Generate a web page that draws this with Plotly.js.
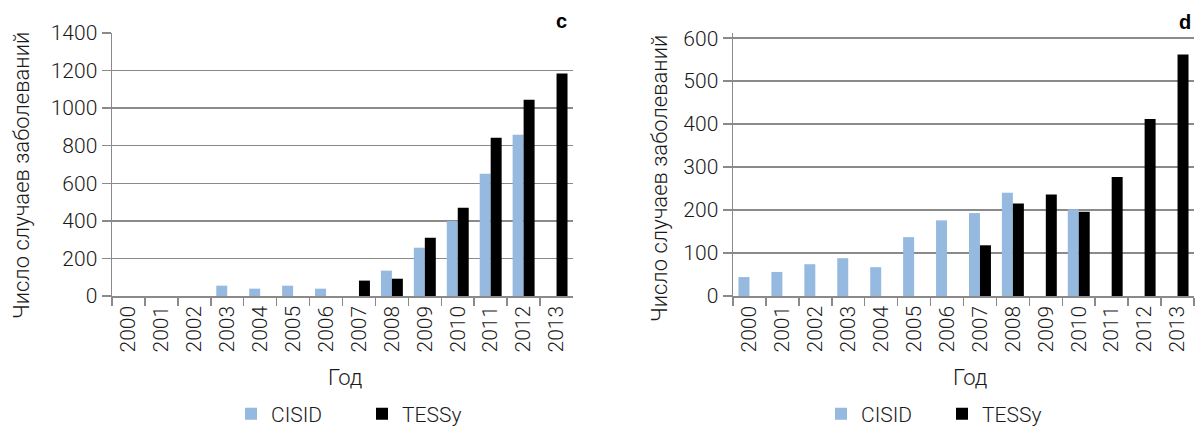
<!DOCTYPE html>
<html>
<head>
<meta charset="utf-8">
<script src="https://cdn.plot.ly/plotly-3.0.1.min.js"></script>
<style>html,body{margin:0;padding:0;background:#fff}#chart{width:1198px;height:428px}</style>
</head>
<body>
<div id="chart"></div>
<script>
const years = ['2000','2001','2002','2003','2004','2005','2006','2007','2008','2009','2010','2011','2012','2013'];
// Panel c
const cisidC = [null,null,null,55,39,55,39,null,135,257,399,651,859,null];
const tessyC = [null,null,null,null,null,null,null,82,92,310,470,843,1045,1184];
// Panel d
const cisidD = [44,56,74,88,67,137,176,193,240,null,202,null,null,null];
const tessyD = [null,null,null,null,null,null,null,118,215,236,196,277,412,562];

const yTitle = 'Число случаев заболеваний';
const xTitle = 'Год';
const blue = '#95b9df';
const black = '#000000';
const gray = '#8a8a8a';
const W = 1198, H = 428;
const px = v => v / W;
const py = v => (H - v) / H;

const traces = [
  {type:'bar', name:'CISID', x:years, y:cisidC, xaxis:'x', yaxis:'y', marker:{color:blue}, legend:'legend'},
  {type:'bar', name:'TESSy', x:years, y:tessyC, xaxis:'x', yaxis:'y', marker:{color:black}, legend:'legend'},
  {type:'bar', name:'CISID', x:years, y:cisidD, xaxis:'x2', yaxis:'y2', marker:{color:blue}, legend:'legend2'},
  {type:'bar', name:'TESSy', x:years, y:tessyD, xaxis:'x2', yaxis:'y2', marker:{color:black}, legend:'legend2'}
];

const xBase = {
  type:'category', tickson:'boundaries', ticks:'outside', ticklen:8, tickwidth:1.5, tickcolor:gray,
  showline:true, linecolor:gray, linewidth:1.5, showgrid:false, tickangle:-90,
  tickfont:{size:21}, fixedrange:true, automargin:false
};
const yBase = {
  ticks:'outside', ticklen:9, tickwidth:1.5, tickcolor:gray, showline:true, linecolor:gray, linewidth:1.5,
  showgrid:true, gridcolor:gray, gridwidth:1.5, zeroline:false, tickfont:{size:21}, tick0:0, fixedrange:true, automargin:false
};

const layout = {
  width:W, height:H, margin:{l:0,r:0,t:0,b:0, autoexpand:false},
  paper_bgcolor:'#ffffff', plot_bgcolor:'#ffffff',
  font:{family:'Roboto, "Liberation Sans", Arial, sans-serif', size:21, color:'#1a1a1a', weight:300},
  barmode:'group', bargap:0.333, bargroupgap:0,
  showlegend:true,
  xaxis:Object.assign({}, xBase, {domain:[px(112), px(573)], anchor:'y'}),
  yaxis:Object.assign({}, yBase, {domain:[py(296), py(33)], anchor:'x', range:[0,1400], dtick:200}),
  xaxis2:Object.assign({}, xBase, {domain:[px(733), px(1194)], anchor:'y2'}),
  yaxis2:Object.assign({}, yBase, {domain:[py(296), py(33)], anchor:'x2', range:[0,612], dtick:100}),
  legend:{orientation:'h', x:px(231), y:py(414), xanchor:'left', yanchor:'middle', font:{size:21},
          entrywidth:86, entrywidthmode:'pixels', bgcolor:'rgba(0,0,0,0)', traceorder:'normal'},
  legend2:{orientation:'h', x:px(821), y:py(414), xanchor:'left', yanchor:'middle', font:{size:21},
          entrywidth:76, entrywidthmode:'pixels', bgcolor:'rgba(0,0,0,0)', traceorder:'normal'},
  annotations:[
    {text:yTitle, textangle:-90, x:px(21), y:py(176), xref:'paper', yref:'paper', showarrow:false, xanchor:'center', yanchor:'middle', font:{size:22}},
    {text:yTitle, textangle:-90, x:px(659), y:py(179), xref:'paper', yref:'paper', showarrow:false, xanchor:'center', yanchor:'middle', font:{size:22}},
    {text:xTitle, x:px(345), y:py(377), xref:'paper', yref:'paper', showarrow:false, xanchor:'center', yanchor:'middle', font:{size:22}},
    {text:xTitle, x:px(970), y:py(377), xref:'paper', yref:'paper', showarrow:false, xanchor:'center', yanchor:'middle', font:{size:22}},
    {text:'<b>c</b>', x:px(561), y:py(21), xref:'paper', yref:'paper', showarrow:false, xanchor:'center', yanchor:'middle', font:{size:20, family:'"Liberation Sans", Arial, sans-serif', color:'#000', weight:700}},
    {text:'<b>d</b>', x:px(1185), y:py(22), xref:'paper', yref:'paper', showarrow:false, xanchor:'center', yanchor:'middle', font:{size:20, family:'"Liberation Sans", Arial, sans-serif', color:'#000', weight:700}}
  ]
};

Plotly.newPlot('chart', traces, layout, {displayModeBar:false, staticPlot:true});
</script>
</body>
</html>
